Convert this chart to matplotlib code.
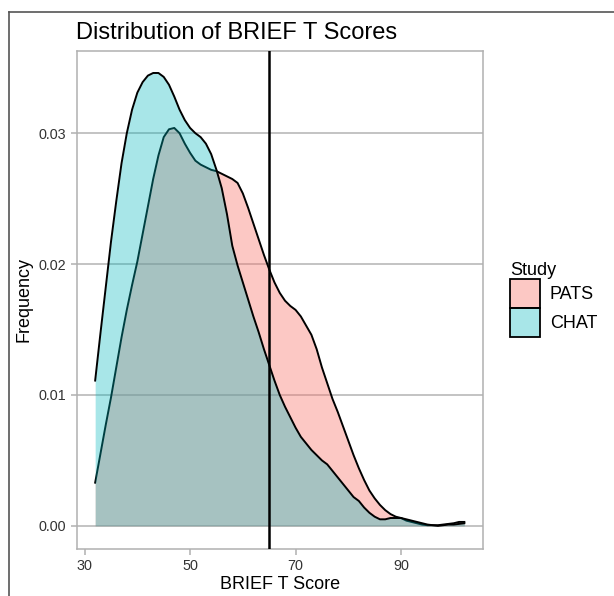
import matplotlib
matplotlib.use("Agg")
import matplotlib.pyplot as plt
from matplotlib.patches import Patch
from matplotlib.colors import to_rgba
from matplotlib.lines import Line2D

plt.rcParams['font.family'] = ['Liberation Sans', 'DejaVu Sans']

# density estimates (BRIEF T score -> density)
score = [32, 33, 34, 35, 36, 37, 38, 39, 40, 41, 42, 43, 44, 45, 46, 47, 48, 49, 50,
         51, 52, 53, 54, 55, 56, 57, 58, 59, 60, 61, 62, 63, 64, 65, 66, 67, 68, 69, 70,
         71, 72, 73, 74, 75, 76, 77, 78, 79, 80, 81, 82, 83, 84, 85, 86, 87, 88, 89, 90,
         91, 92, 93, 94, 95, 96, 97, 98, 99, 100, 101, 102]

pats = [0.0033, 0.0055, 0.0077, 0.0098, 0.0121, 0.0144, 0.0165, 0.0184, 0.0202, 0.0223,
        0.0244, 0.0265, 0.0283, 0.0297, 0.0303, 0.0304, 0.0300, 0.0292, 0.0285, 0.0279,
        0.0276, 0.0274, 0.0272, 0.0271, 0.0269, 0.0267, 0.0265, 0.0262, 0.0254, 0.0243,
        0.0231, 0.0219, 0.0207, 0.0196, 0.0186, 0.0178, 0.0172, 0.0168, 0.0165, 0.0160,
        0.0153, 0.0146, 0.0135, 0.0121, 0.0109, 0.0097, 0.0087, 0.0076, 0.0065, 0.0054,
        0.0044, 0.0035, 0.0027, 0.0021, 0.0016, 0.0012, 0.0009, 0.0007, 0.0006, 0.0004,
        0.0003, 0.0002, 0.0001, 0.00005, 0.00005, 0.00005, 0.0001, 0.00015, 0.0002,
        0.0003, 0.0003]

chat = [0.0111, 0.0147, 0.0182, 0.0217, 0.0248, 0.0277, 0.0300, 0.0318, 0.0331, 0.0339,
        0.0344, 0.0346, 0.0346, 0.0343, 0.0337, 0.0328, 0.0318, 0.0310, 0.0304, 0.0300,
        0.0297, 0.0292, 0.0284, 0.0272, 0.0258, 0.0238, 0.0214, 0.0199, 0.0186, 0.0173,
        0.0160, 0.0148, 0.0135, 0.0123, 0.0111, 0.0100, 0.0091, 0.0083, 0.0075, 0.0068,
        0.0063, 0.0058, 0.0054, 0.0050, 0.0047, 0.0042, 0.0037, 0.0032, 0.0027, 0.0022,
        0.0019, 0.0014, 0.0010, 0.0007, 0.0005, 0.0005, 0.0006, 0.0006, 0.0006, 0.0005,
        0.0004, 0.0003, 0.0002, 0.0001, 0.00005, 0.0, 0.00005, 0.0001, 0.0001, 0.00015,
        0.0002]

studies = ["PATS", "CHAT"]
cutoff = 65
x_ticks = [30, 50, 70, 90]
y_ticks = [0.00, 0.01, 0.02, 0.03]

pink = to_rgba("#F8766D", 0.4)
teal = to_rgba("#00B8BE", 0.34)

fig = plt.figure(figsize=(6.14, 5.96), dpi=100)
ax = fig.add_axes([76.7 / 614, 1 - 548.5 / 596, (482.8 - 76.7) / 614, (548.5 - 51) / 596])

ax.fill_between(score, 0, pats, color=pink, linewidth=0, zorder=2)
ax.plot(score, pats, color="black", lw=1.4, zorder=3)
ax.fill_between(score, 0, chat, color=teal, linewidth=0, zorder=4)
ax.plot(score, chat, color="black", lw=1.4, zorder=5)
ax.axvline(cutoff, color="black", lw=1.8, zorder=6)

ax.set_xlim(28.5, 105.5)
ax.set_ylim(-0.00173, 0.03628)
ax.set_xticks(x_ticks)
ax.set_yticks(y_ticks)
ax.set_yticklabels([f"{v:.2f}" for v in y_ticks])
ax.yaxis.grid(True, color="#BEBEBE", lw=1.3, zorder=1)
ax.set_axisbelow(True)
ax.tick_params(colors="#B0B0B0", labelcolor="#333333", labelsize=10.4, length=4, width=1.1)
for s in ax.spines.values():
    s.set_color("#B0B0B0")
    s.set_linewidth(1.1)

ax.set_xlabel("BRIEF T Score", fontsize=13, labelpad=2)
ax.set_ylabel("Frequency", fontsize=13, labelpad=4)
fig.text(76 / 614, 1 - 33 / 596, "Distribution of BRIEF T Scores", fontsize=17,
         ha="left", va="center")

handles = [Patch(facecolor=pink, edgecolor="black", lw=1.3),
           Patch(facecolor=teal, edgecolor="black", lw=1.3)]
leg = fig.legend(handles, studies, title="Study", loc="upper left",
                 bbox_to_anchor=(510 / 614, 1 - 262 / 596), frameon=False,
                 fontsize=13, title_fontsize=13, handlelength=1.65, handleheight=2.1,
                 labelspacing=0.0, handletextpad=0.55, borderpad=0, borderaxespad=0,
                 alignment="left")

# frame of the original screenshot
fig.add_artist(Line2D([9 / 614, 9 / 614], [0, 1 - 12 / 596], color="#555555", lw=1.2))
fig.add_artist(Line2D([9 / 614, 1], [1 - 12 / 596, 1 - 12 / 596], color="#555555", lw=1.2))

fig.savefig("out.png", dpi=100)
